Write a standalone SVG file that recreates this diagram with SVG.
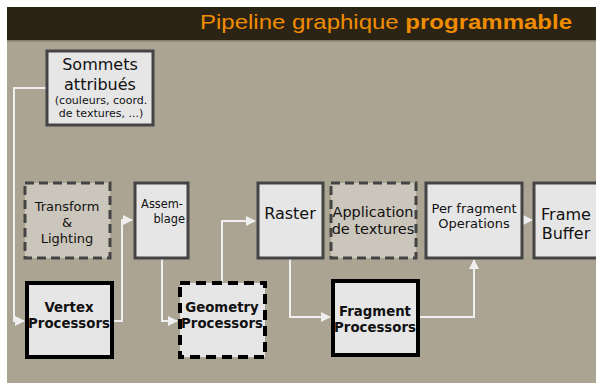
<svg xmlns="http://www.w3.org/2000/svg" width="596" height="383" viewBox="0 0 596 383">
<defs>
<style>
.box{fill:#e6e6e6;stroke:#444;stroke-width:3}
.tl{fill:#cbc6bb;stroke:#444;stroke-width:3;stroke-dasharray:9 5}
.prog{fill:#e6e6e6;stroke:#000;stroke-width:4}
.geo{fill:#e6e6e6;stroke:#000;stroke-width:4;stroke-dasharray:10 6}
.t{font-family:"DejaVu Sans",sans-serif;fill:#111;text-anchor:middle}
.r{text-anchor:end}
.b{font-weight:bold}
.c{fill:none;stroke:#efefef;stroke-width:2}
</style>
<marker id="a" viewBox="0 0 10 10" refX="9" refY="5" markerWidth="5" markerHeight="5" orient="auto"><path d="M0,0L10,5L0,10z" fill="#efefef"/></marker>
</defs>
<rect x="0" y="0" width="596" height="383" fill="#fff"/>
<rect x="7" y="7" width="589" height="376" fill="#aba493"/>
<rect x="7" y="7" width="589" height="33" fill="#2b2314"/>
<rect x="7" y="40" width="589" height="1.5" fill="#857e70"/>
<text x="200" y="29" font-family="Liberation Sans,Arial,sans-serif" font-size="21" fill="#f08c00" textLength="372" lengthAdjust="spacingAndGlyphs">Pipeline graphique <tspan font-weight="bold">programmable</tspan></text>

<g id="connectors">
<path class="c" d="M47,88H14V321H24" marker-end="url(#a)"/>
<path class="c" d="M112,321H122V220H132" marker-end="url(#a)"/>
<path class="c" d="M162,258V321H177" marker-end="url(#a)"/>
<path class="c" d="M222,282V221H255" marker-end="url(#a)"/>
<path class="c" d="M290,258V317H330" marker-end="url(#a)"/>
<path class="c" d="M418,317H474V260" marker-end="url(#a)"/>
<path class="c" d="M522,220H532" marker-end="url(#a)"/>
</g>

<g id="sommets">
<rect class="box" x="47" y="51" width="106" height="74"/>
<text class="t" x="100" y="70" font-size="16">Sommets</text>
<text class="t" x="100" y="90" font-size="16">attribués</text>
<text class="t" x="101" y="104" font-size="11">(couleurs, coord.</text>
<text class="t" x="101" y="117" font-size="11">de textures, ...)</text>
</g>
<g id="transform">
<rect class="tl" x="25" y="183" width="85" height="75"/>
<text class="t" x="67" y="211" font-size="13">Transform</text>
<text class="t" x="67" y="227" font-size="13">&amp;</text>
<text class="t" x="67" y="243" font-size="13">Lighting</text>
</g>
<g id="assemblage">
<rect class="box" x="135" y="183" width="53" height="75"/>
<text class="t r" x="183" y="208" font-size="11.4">Assem-</text>
<text class="t r" x="185" y="223" font-size="11.4">blage</text>
</g>
<g id="raster">
<rect class="box" x="258" y="183" width="65" height="75"/>
<text class="t" x="290" y="219" font-size="16">Raster</text>
</g>
<g id="application">
<rect class="tl" x="331" y="183" width="85" height="75"/>
<text class="t" x="373" y="217" font-size="14.5">Application</text>
<text class="t" x="373" y="234" font-size="14.5">de textures</text>
</g>
<g id="perfragment">
<rect class="box" x="426" y="183" width="96" height="75"/>
<text class="t" x="474" y="213" font-size="13">Per fragment</text>
<text class="t" x="474" y="228" font-size="13">Operations</text>
</g>
<g id="framebuffer">
<rect class="box" x="534" y="183" width="64" height="75"/>
<text class="t" x="566" y="220" font-size="16">Frame</text>
<text class="t" x="566" y="239" font-size="16">Buffer</text>
</g>
<g id="vertex">
<rect class="prog" x="27" y="283" width="85" height="74"/>
<text class="t b" x="69" y="312" font-size="13.3">Vertex</text>
<text class="t b" x="69" y="328" font-size="13.3">Processors</text>
</g>
<g id="geometry">
<rect class="geo" x="180" y="283" width="85" height="74"/>
<text class="t b" x="222" y="312" font-size="13.3">Geometry</text>
<text class="t b" x="222" y="328" font-size="13.3">Processors</text>
</g>
<g id="fragment">
<rect class="prog" x="333" y="281" width="85" height="74"/>
<text class="t b" x="375" y="316" font-size="13.3">Fragment</text>
<text class="t b" x="375" y="332" font-size="13.3">Processors</text>
</g>
</svg>
